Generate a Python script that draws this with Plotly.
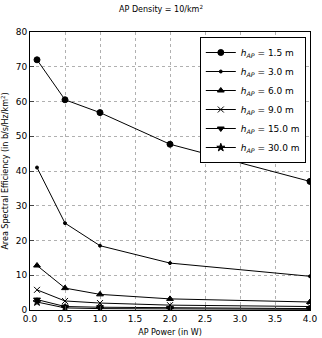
import plotly.graph_objects as go

power = [0.1, 0.5, 1.0, 2.0, 4.0]
heights = ["1.5", "3.0", "6.0", "9.0", "15.0", "30.0"]
ase_1_5 = [72.0, 60.5, 56.8, 47.7, 37.0]
ase_3_0 = [41.0, 25.0, 18.5, 13.5, 9.7]
ase_6_0 = [12.8, 6.3, 4.5, 3.2, 2.3]
ase_9_0 = [5.8, 2.6, 2.0, 1.4, 1.0]
ase_15_0 = [3.0, 1.0, 0.8, 0.6, 0.4]
ase_30_0 = [2.3, 0.6, 0.4, 0.3, 0.2]
series = [ase_1_5, ase_3_0, ase_6_0, ase_9_0, ase_15_0, ase_30_0]
symbols = ["circle", "circle", "triangle-up", "x-thin", "triangle-down", "star"]
sizes = [6, 3, 6, 6, 6, 6]

fig = go.Figure()
for h, ys, sym, sz in zip(heights, series, symbols, sizes):
    fig.add_trace(go.Scatter(
        x=power, y=ys, mode="lines+markers",
        name=f"<i>h</i><sub><i>AP</i></sub> = {h} m",
        line=dict(color="black", width=1),
        marker=dict(symbol=sym, size=sz, color="black",
                    line=dict(color="black", width=1)),
    ))

fig.update_layout(
    width=322, height=338,
    margin=dict(l=30, r=12, t=32, b=28),
    paper_bgcolor="white", plot_bgcolor="white",
    font=dict(family="DejaVu Sans", size=9, color="black"),
    title=dict(text="AP Density = 10/km<sup>2</sup>", x=0.5, xanchor="center",
               y=0.972, yanchor="middle", font=dict(size=8)),
    legend=dict(x=0.985, y=0.982, xanchor="right", yanchor="top",
                bgcolor="white", bordercolor="black", borderwidth=1,
                font=dict(size=9), tracegroupgap=0, itemwidth=30),
    showlegend=True,
)
fig.update_xaxes(range=[0, 4], tickvals=[0, 0.5, 1, 1.5, 2, 2.5, 3, 3.5, 4],
                 tickformat=".1f", showgrid=True, gridcolor="#b0b0b0",
                 griddash="dot", gridwidth=1, showline=True, linecolor="black",
                 mirror=True, ticks="inside", ticklen=4, zeroline=False,
                 tickfont=dict(size=9), automargin=False,
                 title=dict(text="AP Power (in W)", font=dict(size=8), standoff=6))
fig.update_yaxes(range=[0, 80], dtick=10, showgrid=True, gridcolor="#b0b0b0",
                 griddash="dot", gridwidth=1, showline=True, linecolor="black",
                 mirror=True, ticks="inside", ticklen=4, zeroline=False,
                 tickfont=dict(size=9), automargin=False,
                 title=dict(text="Area Spectral Efficiency (in b/s/Hz/km<sup>2</sup>)",
                            font=dict(size=8), standoff=6))

fig.write_html("out.html", config={"displayModeBar": False},
               post_script="document.body.style.margin='0';")
